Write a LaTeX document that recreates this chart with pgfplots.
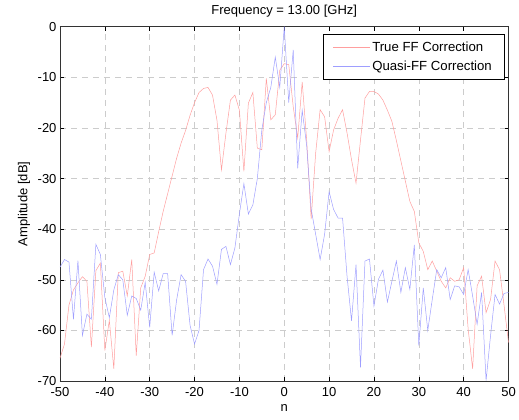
\documentclass[border=0pt]{standalone}
\usepackage{fontspec}
\setmainfont{Liberation Sans}
\usepackage{pgfplots}
\usepackage{pgfplotstable}
\pgfplotsset{compat=1.18}

\definecolor{trueff}{rgb}{1,0.62,0.62}
\definecolor{quasiff}{rgb}{0.62,0.62,1}

% far-field amplitude patterns at 13 GHz
\pgfplotstableread{
n  amp
-50 -65.5
-49 -62.7
-48 -55
-47 -52
-46 -50.6
-45 -49.4
-44 -50.3
-43 -63.3
-42 -48.2
-41 -46.7
-40 -64
-39 -58
-38 -67.6
-37 -48.6
-36 -48.3
-35 -53.2
-34 -46
-33 -65
-32 -51.6
-31 -49.3
-30 -45
-29 -44.7
-28 -40.5
-27 -36.5
-26 -33
-25 -29.5
-24 -26
-23 -23
-22 -20.5
-21 -17.5
-20 -15
-19 -13
-18 -12.2
-17 -12
-16 -13.5
-15 -18.5
-14 -28.3
-13 -21
-12 -14.5
-11 -13.5
-10 -16.5
-9 -28.6
-8 -15.1
-7 -13
-6 -24
-5 -24.3
-4 -10.2
-3 -18.4
-2 -17.4
-1 -8.6
0 -7.3
1 -7.5
2 -15.8
3 -22
4 -10.9
5 -22.4
6 -38
7 -25
8 -16.4
9 -17.8
10 -24.7
11 -20.4
12 -18.1
13 -16.4
14 -21
15 -26.3
16 -30.9
17 -22.4
18 -14.1
19 -12.8
20 -12.8
21 -13.3
22 -14.5
23 -16.5
24 -18.7
25 -22.5
26 -26.5
27 -30.5
28 -34.5
29 -36.5
30 -42.7
31 -44.4
32 -48
33 -46.3
34 -48.3
35 -50.3
36 -51.6
37 -49.6
38 -50.3
39 -50
40 -47.6
41 -59.7
42 -67.6
43 -51.2
44 -49.3
45 -56.5
46 -53.9
47 -46.3
48 -48
49 -55
50 -62.4
}\trueFF

\pgfplotstableread{
n  amp
-50 -47.5
-49 -46
-48 -46.5
-47 -57.8
-46 -46.2
-45 -61
-44 -56.8
-43 -57.8
-42 -43
-41 -45
-40 -53.5
-39 -57.5
-38 -52
-37 -49
-36 -50
-35 -57
-34 -53.2
-33 -53.7
-32 -56
-31 -50.5
-30 -59.4
-29 -48.5
-28 -52.2
-27 -48.8
-26 -48.8
-25 -61
-24 -54
-23 -49
-22 -50.3
-21 -59
-20 -62.7
-19 -60
-18 -48
-17 -45.9
-16 -47.3
-15 -50.9
-14 -44
-13 -43.4
-12 -47
-11 -43.7
-10 -37
-9 -31
-8 -37
-7 -35.2
-6 -30
-5 -20.4
-4 -15
-3 -12
-2 -6
-1 -12
0 0
1 -15
2 -4.6
3 -28
4 -16.5
5 -23.5
6 -36
7 -41
8 -46
9 -41
10 -32.6
11 -36.1
12 -37.8
13 -37.8
14 -49.3
15 -58.1
16 -47
17 -67.3
18 -46.3
19 -45.9
20 -55.2
21 -49.9
22 -48.1
23 -54.4
24 -50.3
25 -46.3
26 -52.5
27 -47.6
28 -51.9
29 -43.1
30 -63
31 -51.6
32 -60
33 -53.9
34 -48
35 -49.6
36 -47.6
37 -53.9
38 -51.2
39 -51.4
40 -52.9
41 -48
42 -53.2
43 -58.8
44 -52.5
45 -69.9
46 -61
47 -52.9
48 -54.8
49 -52.7
50 -52.5
}\quasiFF

\begin{document}
\begin{tikzpicture}
\begin{axis}[
  name=ax, at={(0pt,0pt)}, anchor=south west,
  scale only axis, width=448.5pt, height=354.3pt,
  xmin=-50, xmax=50, ymin=-70, ymax=0,
  xtick={-50,-40,...,50}, ytick={-70,-60,...,0},
  tick align=inside, major tick length=4pt,
  grid=major,
  major grid style={gray!40, dash pattern=on 6pt off 5pt, line width=0.5pt},
  axis line style={black!80, line width=0.5pt},
  tick style={black, line width=0.5pt},
  /pgf/number format/assume math mode=true,
  ticklabel style={font=\fontsize{13}{15}\selectfont},
  xticklabel style={anchor=base, yshift=-16pt},
  xlabel={n}, ylabel={Amplitude [dB]},
  label style={font=\fontsize{13}{15}\selectfont},
  xlabel style={at={(axis description cs:0.5,-0.0762)}, anchor=center},
  ylabel style={at={(axis description cs:-0.0803,0.5)}, anchor=center, rotate=0},
  legend style={at={(0.99,0.9786)}, anchor=north east, draw=black, fill=white,
    font=\fontsize{13.2}{15}\selectfont, inner xsep=10pt, inner ysep=5pt, row sep=4.5pt},
  legend cell align=left,
  legend image code/.code={\draw[#1] (0pt,0pt) -- (37pt,0pt);},
]
\addplot[trueff, line width=0.5pt] table[x=n, y=amp] {\trueFF};
\addlegendentry{True FF Correction}
\addplot[quasiff, line width=0.5pt] table[x=n, y=amp] {\quasiFF};
\addlegendentry{Quasi-FF Correction}
\end{axis}
% plot title, centred above the axis box
\node[font=\fontsize{13}{15}\selectfont, anchor=center, inner sep=0pt]
  at (224.25pt,369.5pt) {Frequency = 13.00 [GHz]};
\pgfresetboundingbox
\path[use as bounding box] (-60pt,-39pt) rectangle (459pt,381pt);
\end{tikzpicture}
\end{document}
